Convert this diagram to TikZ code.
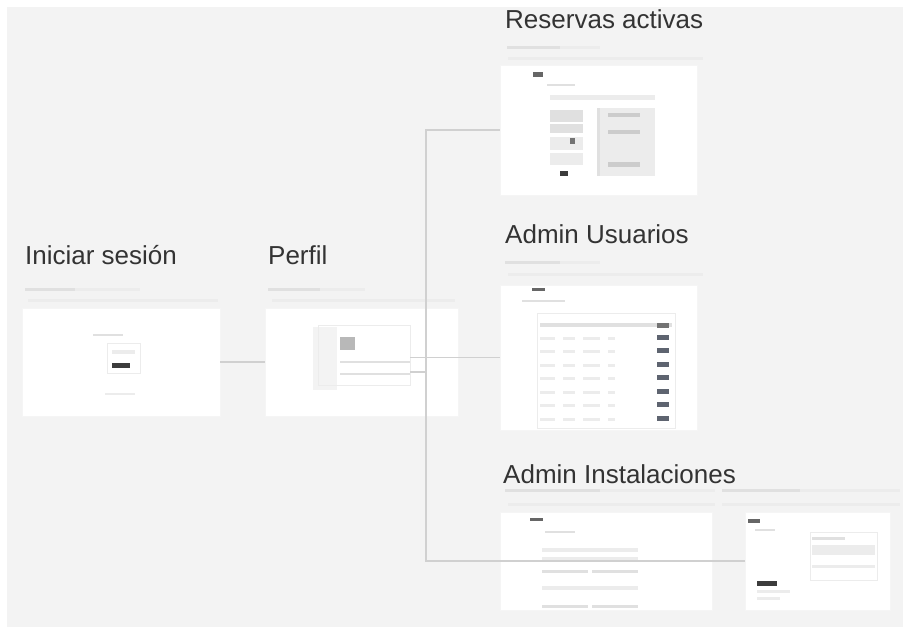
\documentclass[tikz,border=0pt]{standalone}
\usepackage{fontspec}
\setmainfont{Liberation Sans}
\usepackage{tikz}
\usetikzlibrary{positioning}
\definecolor{canvas}{HTML}{F3F3F3}
\definecolor{ink}{HTML}{333333}
\definecolor{wire}{HTML}{D0D0D0}
\definecolor{bar}{HTML}{E0E0E0}
\definecolor{soft}{HTML}{ECECEC}
\definecolor{dark}{HTML}{3C3C3C}
\definecolor{slate}{HTML}{5E6470}
\tikzset{
  screen/.style={fill=white, draw=black!4, anchor=north west, inner sep=0pt, outer sep=0pt},
  title/.style={anchor=base west, inner sep=0pt, font=\fontsize{26}{31}\selectfont, text=ink},
  subline/.style={fill=bar, draw=none},
  faint/.style={fill=soft, draw=none},
  link/.style={draw=wire, line width=1.6pt},
  knob/.style={fill=dark, draw=none},
  panel/.style={draw=soft, line width=1pt}
}

\begin{document}
\begin{tikzpicture}[x=1pt,y=-1pt]
        \useasboundingbox (0,0) rectangle (903,627);
        \fill[white] (0,0) rectangle (903,627);
        \fill[canvas] (7,7) rectangle (903,627);

        % screen titles
        \node[title] (t-login) at (25,264) {Iniciar sesión};
        \node[title] (t-perfil) at (268,264) {Perfil};
        \node[title] (t-res) at (505,28) {Reservas activas};
        \node[title] (t-usr) at (505,243) {Admin Usuarios};
        \node[title] (t-inst) at (503,483) {Admin Instalaciones};

        % caption lines under the titles
        \fill[subline] (25,288) rectangle (75,291);
        \fill[faint] (75,288) rectangle (140,291);
        \fill[faint] (28,299) rectangle (218,302);
        \fill[subline] (268,288) rectangle (320,291);
        \fill[faint] (320,288) rectangle (365,291);
        \fill[faint] (272,299) rectangle (455,302);
        \fill[subline] (507,46) rectangle (560,49);
        \fill[faint] (560,46) rectangle (600,49);
        \fill[faint] (508,57) rectangle (703,60);
        \fill[subline] (505,261) rectangle (560,264);
        \fill[faint] (560,261) rectangle (600,264);
        \fill[faint] (508,273) rectangle (703,276);
        \fill[subline] (505,489) rectangle (600,492);
        \fill[faint] (600,489) rectangle (715,492);
        \fill[faint] (508,503) rectangle (715,506);
        \fill[subline] (722,489) rectangle (800,492);
        \fill[faint] (800,489) rectangle (900,492);
        \fill[faint] (722,503) rectangle (900,506);

        % screens
        \node[screen, minimum width=198, minimum height=108] (login) at (22,308) {};
        \node[screen, minimum width=193, minimum height=108] (perfil) at (265,308) {};
        \node[screen, minimum width=197, minimum height=130] (res) at (500,65) {};
        \node[screen, minimum width=197, minimum height=145] (usr) at (500,285) {};
        \node[screen, minimum width=212, minimum height=98] (inst) at (500,512) {};
        \node[screen, minimum width=145, minimum height=98] (inst2) at (745,512) {};

        % login form
        \fill[subline] (93,334) rectangle (123,336);
        \draw[panel] (107,343) rectangle (140,373);
        \fill[faint] (112,350) rectangle (135,354);
        \fill[knob] (112,363) rectangle (130,368);
        \fill[faint] (105,393) rectangle (135,395);

        % profile form
        \fill[canvas] (313,327) rectangle (337,390);
        \draw[panel] (318,325) rectangle (410,385);
        \fill[black!28] (340,337) rectangle (355,350);
        \fill[subline] (340,361) rectangle (410,363);
        \fill[subline] (340,373) rectangle (410,375);

        % active bookings
        \fill[black!60] (533,72) rectangle (543,77);
        \fill[subline] (547,84) rectangle (575,86);
        \fill[faint] (550,95) rectangle (655,100);
        \fill[bar] (550,110) rectangle (583,122);
        \fill[bar] (550,124) rectangle (583,133);
        \fill[faint] (550,137) rectangle (583,150);
        \fill[faint] (550,153) rectangle (583,165);
        \fill[black!55] (570,138) rectangle (575,144);
        \fill[knob] (560,171) rectangle (568,176);
        \fill[soft] (597,108) rectangle (655,176);
        \fill[bar] (597,108) rectangle (600,176);
        \fill[black!20] (608,113) rectangle (640,117);
        \fill[black!20] (608,130) rectangle (640,134);
        \fill[black!20] (608,162) rectangle (640,167);

        % user table
        \fill[black!60] (532,288) rectangle (545,291);
        \fill[subline] (522,300) rectangle (565,302);
        \draw[panel] (537,313) rectangle (675,428);
        \fill[bar] (540,323) rectangle (672,327);
        \foreach \r in {337,350,364,377,391,404,418} {
          \fill[soft] (540,\r) rectangle (555,\r+3);
          \fill[soft] (563,\r) rectangle (575,\r+3);
          \fill[soft] (583,\r) rectangle (600,\r+3);
          \fill[soft] (608,\r) rectangle (615,\r+3);
          \fill[slate] (657,\r-2) rectangle (669,\r+3);
        }
        \fill[black!55] (657,323) rectangle (669,328);

        % facilities list
        \fill[black!60] (530,518) rectangle (543,521);
        \fill[subline] (545,531) rectangle (575,533);
        \fill[faint] (542,548) rectangle (638,552);
        \fill[faint] (542,557) rectangle (638,560);
        \fill[bar] (542,570) rectangle (588,573);
        \fill[bar] (592,570) rectangle (638,573);
        \fill[faint] (542,586) rectangle (638,590);
        \fill[bar] (542,605) rectangle (588,608);
        \fill[bar] (592,605) rectangle (638,608);

        % facility editor
        \fill[black!60] (748,519) rectangle (760,523);
        \fill[subline] (755,529) rectangle (775,531);
        \draw[panel] (810,532) rectangle (877,580);
        \fill[bar] (812,537) rectangle (845,540);
        \fill[faint] (812,545) rectangle (875,555);
        \fill[faint] (812,565) rectangle (875,568);
        \fill[knob] (757,581) rectangle (777,586);
        \fill[faint] (757,590) rectangle (790,593);
        \fill[faint] (757,597) rectangle (780,600);

        % prototype links
        \coordinate (p-go) at (410,357.5);
        \coordinate (p-menu) at (410,372);
        \draw[link] (login.east) -- (perfil.west);
        \draw[link] (p-go) -- (usr.west);
        \draw[link] (p-menu) -- ++(16,0) |- (res.west);
        \draw[link] (p-menu) -- ++(16,0) |- (inst2.west);
    \end{tikzpicture}
\end{document}
